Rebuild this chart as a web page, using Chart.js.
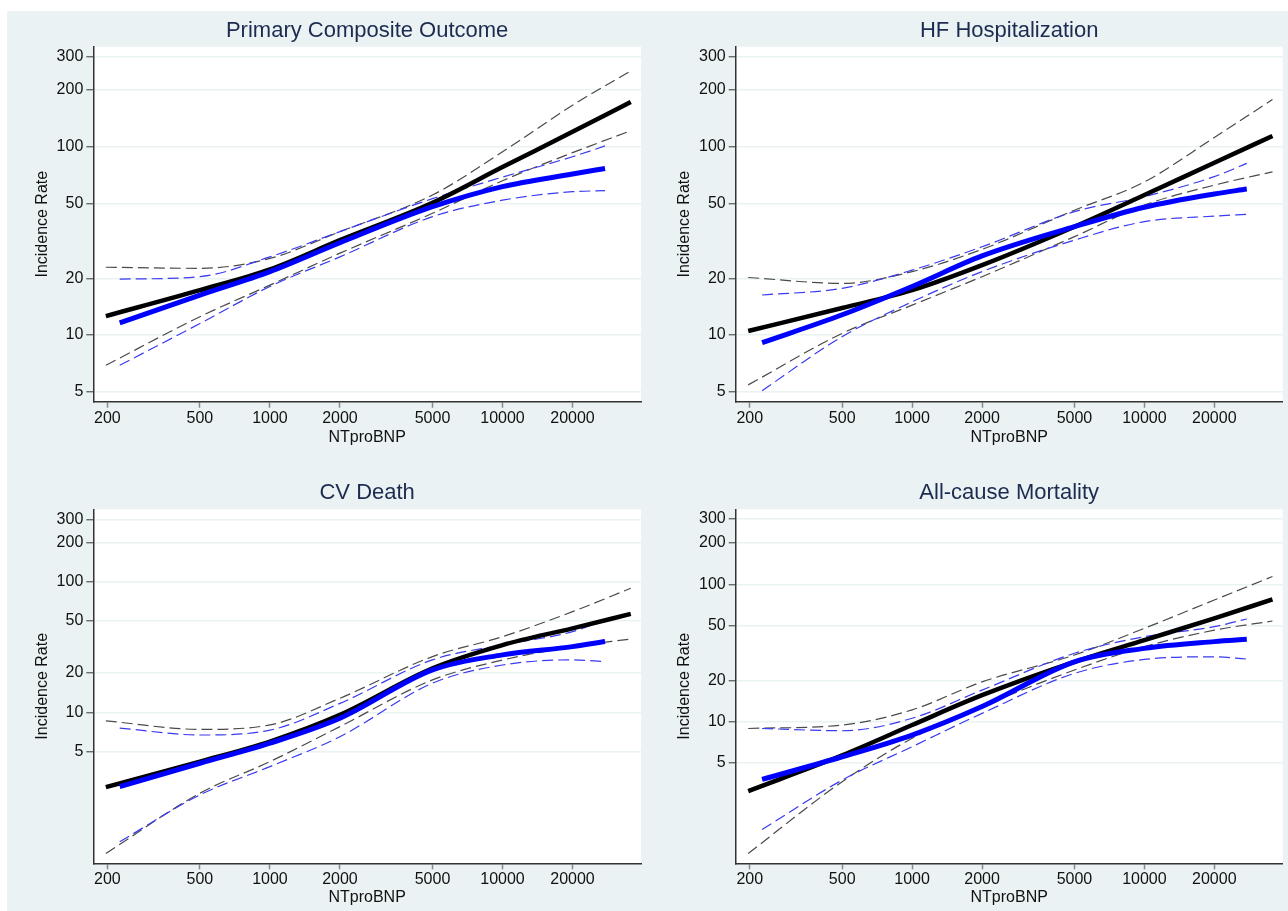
<!DOCTYPE html>
<html>
<head>
<meta charset="utf-8">
<script src="https://cdn.jsdelivr.net/npm/chart.js@4.4.0/dist/chart.umd.min.js"></script>
<style>
  body { margin: 0; background: #fff; width: 1288px; height: 911px; position: relative; overflow: hidden; }
  #bg { position: absolute; left: 7px; top: 11px; right: 0; bottom: 0; background: #eaf2f3; }
  canvas { position: absolute; }
</style>
</head>
<body>
<div id="bg"></div>
<canvas id="pco"></canvas>
<canvas id="hfh"></canvas>
<canvas id="cvd"></canvas>
<canvas id="acm"></canvas>
<script>
// ============ DATA ============
const xTicks = [200, 500, 1000, 2000, 5000, 10000, 20000];
const yTicks = [5, 10, 20, 50, 100, 200, 300];

// NTproBNP positions of the curve points
const ntBlack = [197, 500, 1000, 2000, 5000, 10000, 20000, 35600];
const ntBlue  = [226, 500, 1000, 2000, 5000, 10000, 20000, 27600];

// Primary Composite Outcome
const pcoBlack   = [12.6, 17.3, 22.3, 31.9, 50.4, 78, 120, 173];
const pcoBlackHi = [22.9, 22.6, 25.5, 35.4, 55.4, 94, 166, 253];
const pcoBlackLo = [6.9, 12.5, 18.4, 27.2, 44.3, 66, 93, 121.6];
const pcoBlue    = [11.6, 16.3, 21.7, 30.9, 48, 61.4, 71.6, 76.7];
const pcoBlueHi  = [19.8, 20.4, 26, 35.4, 53, 69, 88.5, 101];
const pcoBlueLo  = [6.9, 11.5, 18.1, 26, 42.5, 52, 57.7, 58.4];

// HF Hospitalization
const hfhBlack   = [10.5, 13.9, 17.3, 23.5, 37.6, 55.4, 82.2, 114];
const hfhBlackHi = [20.2, 18.8, 21.7, 28.5, 46, 65, 112, 178];
const hfhBlackLo = [5.43, 10.2, 14.4, 20.4, 33.3, 49, 62.5, 73.6];
const hfhBlue    = [9.1, 12.8, 18.1, 26.3, 37.6, 47.7, 56.1, 59.6];
const hfhBlueHi  = [16.3, 17.7, 22.1, 29.4, 45.2, 54.3, 69.4, 81.6];
const hfhBlueLo  = [5.06, 9.8, 15, 21.7, 31.9, 40, 42.8, 43.7];

// CV Death
const cvdBlack   = [2.67, 4.19, 5.97, 9.55, 21.7, 32.7, 43.9, 56.6];
const cvdBlackHi = [8.6, 7.4, 8.0, 12.8, 26.7, 37.9, 58.9, 89];
const cvdBlackLo = [0.83, 2.4, 4.19, 7.77, 17.7, 25.1, 31.8, 36.4];
const cvdBlue    = [2.7, 4.07, 5.8, 9.0, 21.1, 27.5, 31.8, 34.8];
const cvdBlueHi  = [7.56, 6.7, 7.3, 11.7, 25.2, 32.8, 41.4, 51];
const cvdBlueLo  = [1.02, 2.33, 3.84, 6.5, 16.7, 23, 25.2, 24.4];

// All-cause Mortality
const acmBlack   = [3.13, 5.7, 9.46, 15.6, 27.3, 39.3, 56.5, 77.8];
const acmBlackHi = [8.93, 9.46, 12.2, 19.5, 30.6, 47.9, 76.9, 114];
const acmBlackLo = [1.1, 3.66, 7.57, 12.9, 23.8, 35.2, 46.4, 54.1];
const acmBlue    = [3.8, 5.56, 8.0, 12.9, 27.3, 34.2, 38.3, 39.8];
const acmBlueHi  = [8.93, 8.6, 10.6, 17, 31.5, 41.6, 49.2, 56];
const acmBlueLo  = [1.64, 3.76, 6.58, 11.5, 22.5, 28.4, 29.7, 28.6];

// ============ LAYOUT ============
Chart.defaults.font.family = '"Liberation Sans", Arial, sans-serif';
const tickFont = { size: 16 };

// white plot region behind the grid
const plotBg = {
    id: 'plotBg',
    beforeDraw(chart) {
        const a = chart.chartArea;
        const ctx = chart.ctx;
        ctx.save();
        ctx.fillStyle = '#ffffff';
        ctx.fillRect(a.left, a.top, a.right - a.left, a.bottom - a.top);
        ctx.restore();
    }
};

function pts(xs, ys) {
    return xs.map((x, i) => ({ x: x, y: ys[i] }));
}

function solid(xs, ys, color, w) {
    return { data: pts(xs, ys), borderColor: color, borderWidth: w, fill: false };
}

function dashed(xs, ys, color) {
    return { data: pts(xs, ys), borderColor: color, borderWidth: 1.2, borderDash: [11, 5], fill: false };
}

function panel(id, g, title, s) {
    const el = document.getElementById(id);
    el.width = g.w;
    el.height = g.h;
    el.style.left = g.left + 'px';
    el.style.top = g.top + 'px';

    new Chart(el, {
        type: 'line',
        data: {
            datasets: [
                solid(ntBlue, s[3], '#0000ff', 5),
                solid(ntBlack, s[0], '#000000', 4.5),
                dashed(ntBlue, s[4], '#3a3af2'),
                dashed(ntBlue, s[5], '#3a3af2'),
                dashed(ntBlack, s[1], '#4a4a4a'),
                dashed(ntBlack, s[2], '#4a4a4a')
            ]
        },
        plugins: [plotBg],
        options: {
            responsive: false,
            animation: false,
            devicePixelRatio: 1,
            layout: { padding: { right: g.padR } },
            elements: {
                point: { radius: 0 },
                line: { cubicInterpolationMode: 'monotone' }
            },
            plugins: {
                legend: { display: false },
                tooltip: { enabled: false },
                title: {
                    display: true, text: title, fullSize: false,
                    color: '#1c2b4f', font: { size: 22, weight: 'normal' },
                    padding: { top: g.tTop, bottom: g.tBot }
                }
            },
            scales: {
                x: {
                    type: 'logarithmic', min: 174, max: 39400,
                    afterBuildTicks: sc => { sc.ticks = xTicks.map(v => ({ value: v })); },
                    afterFit: sc => { sc.height = g.xH; },
                    ticks: { callback: v => String(v), font: tickFont, color: '#111', padding: 1, maxRotation: 0, autoSkip: false },
                    grid: { drawOnChartArea: false, tickColor: '#8a8a8a', tickLength: 6, tickWidth: 1.5 },
                    border: { color: '#333', width: 1.5 },
                    title: { display: true, text: 'NTproBNP', font: tickFont, color: '#111', padding: { top: 0, bottom: g.xtB } }
                },
                y: {
                    type: 'logarithmic', min: g.yMin, max: g.yMax,
                    afterBuildTicks: sc => { sc.ticks = yTicks.map(v => ({ value: v })); },
                    afterFit: sc => { sc.width = g.yW; },
                    ticks: { callback: v => String(v), font: tickFont, color: '#111', padding: 3, autoSkip: false },
                    grid: { color: '#eaf2f3', lineWidth: 1.5, tickColor: '#555', tickLength: 7, tickWidth: 1.2 },
                    border: { color: '#333', width: 1.5 },
                    title: { display: true, text: 'Incidence Rate', font: tickFont, color: '#111', padding: { top: 32.5, bottom: 0 } }
                }
            }
        }
    });
}

const topRow = { top: 0, h: 455, xH: 53.3, tTop: 17.6, tBot: 2.7, xtB: 7.9, yMin: 4.42, yMax: 340 };
const botRow = { top: 455, h: 456, xH: 47.7, tTop: 25.1, tBot: 2.8, xtB: 3.7 };
const leftCol = { left: 0, w: 644, padR: 3, yW: 93.3 };
const rightCol = { left: 642, w: 646, padR: 5.3, yW: 93.7 };

panel('pco', Object.assign({}, topRow, leftCol), 'Primary Composite Outcome',
    [pcoBlack, pcoBlackHi, pcoBlackLo, pcoBlue, pcoBlueHi, pcoBlueLo]);
panel('hfh', Object.assign({}, topRow, rightCol), 'HF Hospitalization',
    [hfhBlack, hfhBlackHi, hfhBlackLo, hfhBlue, hfhBlueHi, hfhBlueLo]);
panel('cvd', Object.assign({}, botRow, leftCol, { yMin: 0.698, yMax: 358 }), 'CV Death',
    [cvdBlack, cvdBlackHi, cvdBlackLo, cvdBlue, cvdBlueHi, cvdBlueLo]);
panel('acm', Object.assign({}, botRow, rightCol, { yMin: 0.932, yMax: 352 }), 'All-cause Mortality',
    [acmBlack, acmBlackHi, acmBlackLo, acmBlue, acmBlueHi, acmBlueLo]);
</script>
</body>
</html>
